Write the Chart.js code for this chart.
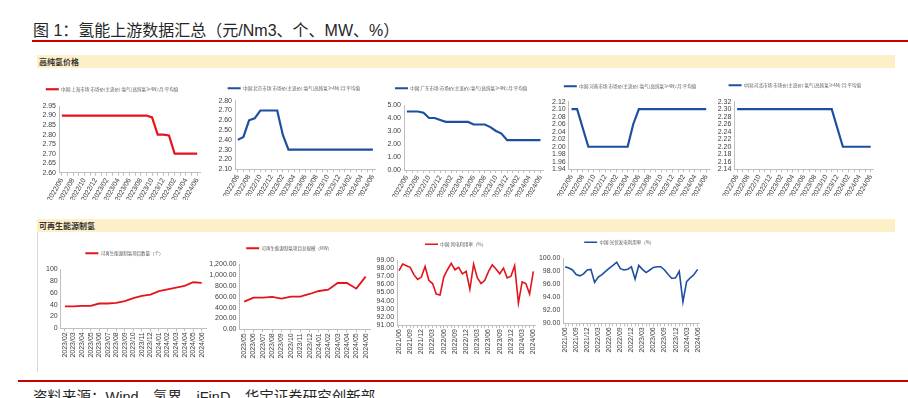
<!DOCTYPE html>
<html>
<head>
<meta charset="utf-8">
<script src="https://cdn.jsdelivr.net/npm/chart.js@4.4.1/dist/chart.umd.min.js"></script>
<style>
  body { margin: 0; width: 908px; height: 398px; background: #fff; position: relative; overflow: hidden;
         font-family: "Liberation Sans", "Noto Sans CJK SC", sans-serif; }
  #title { position: absolute; left: 33px; top: 17px; font-size: 16px; color: #262626; white-space: nowrap; }
  .rule { position: absolute; height: 2px; background: #c80000; }
  .band { position: absolute; left: 37px; width: 856px; height: 13px; padding-left: 2px; background: #fdf0c9;
          font: bold 8px "Noto Sans CJK SC", sans-serif; line-height: 13px; color: #333; }
  .vline { position: absolute; width: 1px; background: #d9d9d9; }
  #source { position: absolute; left: 33px; top: 385px; font-size: 14.5px; color: #262626; white-space: nowrap; }
  .box { position: absolute; }
</style>
</head>
<body>
<div id="title">图 1：氢能上游数据汇总（元/Nm3、个、MW、%）</div>
<div class="rule" style="left:32px; right:0; top:40px;"></div>
<div class="band" style="top:55px;">高纯氢价格</div>
<div class="band" style="top:219px;">可再生能源制氢</div>
<div class="vline" style="left:37px; top:232px; height:140px;"></div>
<div class="rule" style="left:18px; right:0; top:380px;"></div>
<div id="source">资料来源：Wind、氢界、iFinD、华宝证券研究创新部</div>

<script>
// ---- data ----
const topMonths = ['2022/06','2022/07','2022/08','2022/09','2022/10','2022/11','2022/12',
  '2023/01','2023/02','2023/03','2023/04','2023/05','2023/06','2023/07','2023/08','2023/09',
  '2023/10','2023/11','2023/12','2024/01','2024/02','2024/03','2024/04','2024/05','2024/06'];

const shanghaiPrice = [2.90,2.90,2.90,2.90,2.90,2.90,2.90,2.90,2.90,2.90,2.90,2.90,2.90,2.90,2.90,2.90,
  2.89,2.80,2.80,2.795,2.70,2.70,2.70,2.70,2.70];
const beijingPrice = [2.40,2.43,2.60,2.62,2.70,2.70,2.70,2.70,2.45,2.30,2.30,2.30,2.30,2.30,2.30,2.30,
  2.30,2.30,2.30,2.30,2.30,2.30,2.30,2.30,2.30];
const guangdongPrice = [4.5,4.5,4.5,4.4,4.0,4.0,3.85,3.7,3.7,3.7,3.7,3.7,3.5,3.5,3.5,3.3,
  3.0,2.8,2.3,2.3,2.3,2.3,2.3,2.3,2.3];
const henanPrice = [2.10,2.10,2.05,2.00,2.00,2.00,2.00,2.00,2.00,2.00,2.00,2.06,2.10,2.10,2.10,2.10,
  2.10,2.10,2.10,2.10,2.10,2.10,2.10,2.10,2.10];
const hebeiPrice = [2.30,2.30,2.30,2.30,2.30,2.30,2.30,2.30,2.30,2.30,2.30,2.30,2.30,2.30,2.30,2.30,
  2.30,2.30,2.25,2.20,2.20,2.20,2.20,2.20,2.20];

const projMonths = ['2023/02','2023/03','2023/04','2023/05','2023/06','2023/07','2023/08','2023/09',
  '2023/10','2023/11','2023/12','2024/01','2024/02','2024/03','2024/04','2024/05','2024/06'];
const projCount = [37,37,38,38,42,42,43,46,51,55,57,63,66,69,72,78,77];

const scaleMonths = ['2023/05','2023/06','2023/07','2023/08','2023/09','2023/10','2023/11','2023/12',
  '2024/01','2024/02','2024/03','2024/04','2024/05','2024/06'];
const projScale = [510,585,585,597,566,603,603,652,707,732,855,855,750,972];

const rateMonths = ['2021/06','2021/07','2021/08','2021/09','2021/10','2021/11','2021/12',
  '2022/01','2022/02','2022/03','2022/04','2022/05','2022/06','2022/07','2022/08','2022/09','2022/10','2022/11','2022/12',
  '2023/01','2023/02','2023/03','2023/04','2023/05','2023/06','2023/07','2023/08','2023/09','2023/10','2023/11','2023/12',
  '2024/01','2024/02','2024/03','2024/04','2024/05','2024/06'];
const windRate = [97.7,98.5,98.3,98.1,97.2,96.6,96.9,98.2,96.5,96.1,94.8,94.7,96.9,97.8,98.6,97.8,
  98.1,97.3,97.6,95.4,98.5,96.8,96.1,96.5,97.6,98.4,97.9,97.3,98.0,96.8,97.0,98.3,93.7,96.3,96.1,94.8,97.6];
const solarRate = [98.7,98.5,98.2,97.5,97.3,97.6,98.2,98.3,96.3,97.1,97.5,98.0,98.5,98.9,99.4,98.4,
  98.2,98.3,98.7,96.8,98.9,98.3,97.8,98.2,98.6,98.7,98.7,98.2,97.5,96.9,97.0,98.0,93.3,96.4,97.0,97.5,98.3];

// y axis ranges: [min, max, step]
const shanghaiAxis = [2.60, 2.95, 0.05];
const beijingAxis = [2.10, 2.80, 0.10];
const guangdongAxis = [0, 5, 1];
const henanAxis = [1.94, 2.12, 0.02];
const hebeiAxis = [2.14, 2.32, 0.02];
const countAxis = [0, 100, 20];
const scaleAxis = [0, 1200, 200];
const windAxis = [91, 99, 1];
const solarAxis = [90, 100, 2];

const layout = {
  c1: { legendX: 115, legendY: 89,   left: 59,    right: 200,   top: 106,   bottom: 172.7, xH: 27 },
  c2: { legendX: 297, legendY: 88.3, left: 235,   right: 375.7, top: 100.7, bottom: 169.3, xH: 27 },
  c3: { legendX: 464, legendY: 88.3, left: 404,   right: 543.3, top: 105,   bottom: 170,   xH: 27 },
  c4: { legendX: 633, legendY: 86.7, left: 568.7, right: 709,   top: 101.7, bottom: 169.3, xH: 27 },
  c5: { legendX: 800, legendY: 85.7, left: 734.3, right: 873.5, top: 101.7, bottom: 169.3, xH: 27 },
  c6: { legendX: 129, legendY: 253.3, left: 60.7, right: 206,   top: 269.3, bottom: 328.3, xH: 30 },
  c7: { legendX: 292, legendY: 248.3, left: 239.5, right: 370.3, top: 264.3, bottom: 329.3, xH: 30 },
  c8: { legendX: 458.7, legendY: 244.3, left: 397.1, right: 535.2, top: 260, bottom: 325, xH: 30 },
  c9: { legendX: 622.5, legendY: 242.3, left: 563.3, right: 699.5, top: 258.3, bottom: 323.3, xH: 30 }
};

const RED = '#e3141c';
const BLUE = '#1d4f9f';
const AXIS = '#bfbfbf';
const LEG_PAD = 3;
const LEG_FONT = 4.5;

Chart.defaults.font.family = "'Liberation Sans Narrow', 'Liberation Sans', 'Noto Sans CJK SC', sans-serif";
Chart.defaults.font.size = 7;
Chart.defaults.color = '#404040';
Chart.defaults.animation = false;

const f2 = v => v.toFixed(2);
const f0 = v => String(v);
const fComma = v => v.toLocaleString('en-US', { minimumFractionDigits: 2, maximumFractionDigits: 2 });

// legend gets a little extra room below it, as in the reference
function legendGap(gap) {
  return {
    id: 'legendGap',
    beforeLayout(chart) {
      const lg = chart.legend;
      if (lg && !lg.gapDone) {
        const fit = lg.fit;
        lg.fit = function () { fit.call(this); this.height += gap; };
        lg.gapDone = true;
      }
    }
  };
}

function buildChart(id, name, labels, values, axis, fmt, every, rot, color, lw) {
  const g = layout[id];
  let cr = Math.round(g.right + 6);
  let cl = Math.round(2 * g.legendX - cr);
  if (g.left - cl < 18) {
    cl = Math.round(g.left - 18);
    cr = Math.round(2 * g.legendX - cl);
  }
  const ct = Math.round(g.legendY - LEG_PAD - LEG_FONT / 2);
  const cb = Math.round(g.bottom + g.xH);
  const gap = Math.max(0, g.top - ct - (LEG_FONT + LEG_PAD + 10));

  const box = document.createElement('div');
  box.className = 'box';
  box.style.left = cl + 'px';
  box.style.top = ct + 'px';
  box.style.width = (cr - cl) + 'px';
  box.style.height = (cb - ct) + 'px';
  const cv = document.createElement('canvas');
  cv.id = id;
  box.appendChild(cv);
  document.body.appendChild(box);

  new Chart(cv, {
    type: 'line',
    data: {
      labels: labels,
      datasets: [{
        label: name,
        data: values,
        borderColor: color,
        backgroundColor: color,
        borderWidth: lw,
        pointRadius: 0,
        tension: 0,
        fill: false
      }]
    },
    options: {
      responsive: true,
      maintainAspectRatio: false,
      layout: { padding: { left: 0, top: 0, bottom: 0, right: cr - g.right } },
      plugins: {
        legend: {
          position: 'top',
          labels: {
            usePointStyle: true,
            pointStyle: 'line',
            pointStyleWidth: 13,
            padding: LEG_PAD,
            color: '#595959',
            font: { size: LEG_FONT, family: "'Noto Sans CJK SC', sans-serif" }
          }
        },
        tooltip: { enabled: false }
      },
      scales: {
        x: {
          offset: true,
          grid: { drawOnChartArea: false, drawTicks: true, tickLength: 3, color: AXIS },
          border: { color: AXIS },
          ticks: {
            autoSkip: false,
            minRotation: rot,
            maxRotation: rot,
            padding: 1,
            callback(v, i) { return i % every === 0 ? this.getLabelForValue(v) : ''; }
          },
          afterFit(s) { s.height = cb - g.bottom; s.paddingLeft = 0; s.paddingRight = 0; }
        },
        y: {
          min: axis[0],
          max: axis[1],
          grid: { drawOnChartArea: false, drawTicks: false },
          border: { color: AXIS },
          ticks: { stepSize: axis[2], autoSkip: false, padding: 3, callback: fmt },
          afterFit(s) { s.width = g.left - cl; s.paddingTop = 0; s.paddingBottom = 0; }
        }
      }
    },
    plugins: [legendGap(gap)]
  });
}

const priceName = city => '中国:' + city + '市场:市场价(主流价):氢气(高纯氢≥4N):月:平均值';

buildChart('c1', priceName('上海'), topMonths, shanghaiPrice, shanghaiAxis, f2, 2, 60, RED, 2.2);
buildChart('c2', priceName('北京'), topMonths, beijingPrice, beijingAxis, f2, 2, 60, BLUE, 2.2);
buildChart('c3', priceName('广东'), topMonths, guangdongPrice, guangdongAxis, f2, 2, 60, BLUE, 2.2);
buildChart('c4', priceName('河南'), topMonths, henanPrice, henanAxis, f2, 2, 60, BLUE, 2.2);
buildChart('c5', priceName('河北'), topMonths, hebeiPrice, hebeiAxis, f2, 2, 60, BLUE, 2.2);
buildChart('c6', '可再生能源制氢项目数量（个）', projMonths, projCount, countAxis, f0, 1, 90, RED, 1.8);
buildChart('c7', '可再生能源制氢项目总规模（MW）', scaleMonths, projScale, scaleAxis, fComma, 1, 90, RED, 1.8);
buildChart('c8', '中国:风电利用率（%）', rateMonths, windRate, windAxis, f2, 3, 90, RED, 1.6);
buildChart('c9', '中国:光伏发电利用率（%）', rateMonths, solarRate, solarAxis, f2, 3, 90, BLUE, 1.6);
</script>
</body>
</html>
